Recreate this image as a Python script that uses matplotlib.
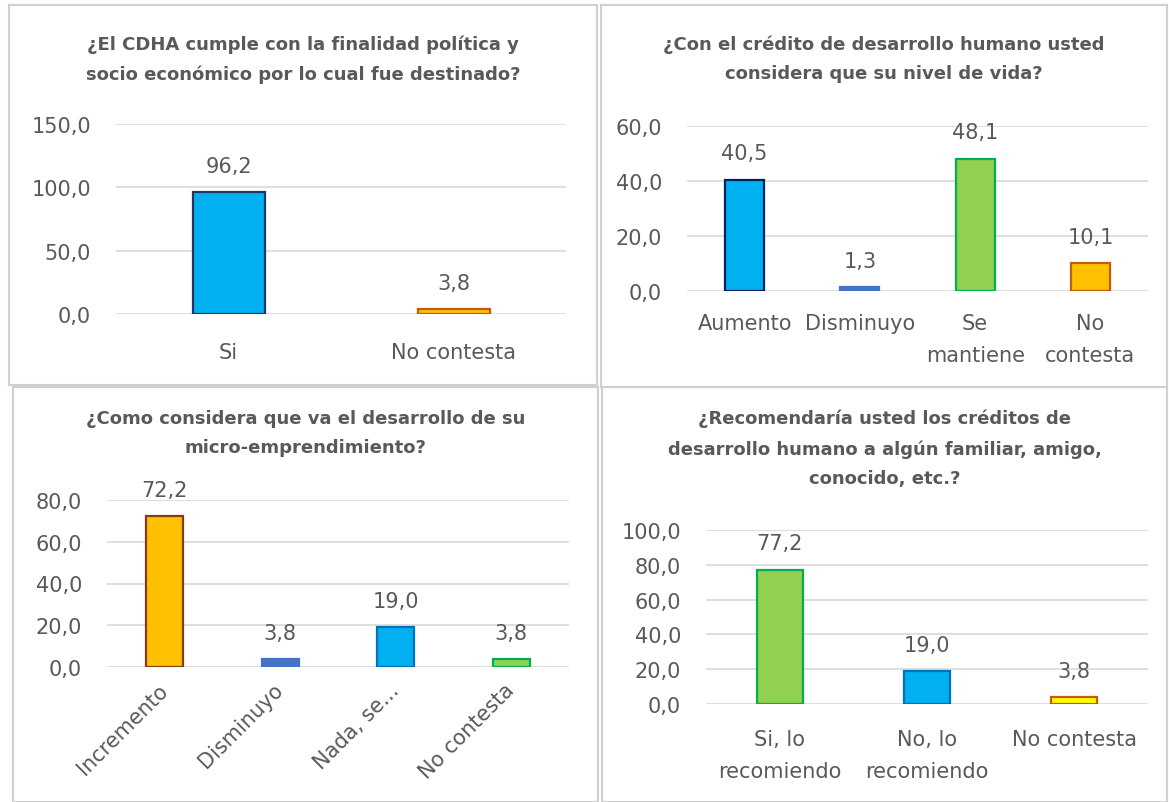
import numpy as np
import matplotlib
matplotlib.use("Agg")
import matplotlib.pyplot as plt
from matplotlib.patches import Rectangle

W, H = 1169, 803
TEXT = "#595959"
GRID = "#d9d9d9"

plt.rcParams["font.family"] = ["DejaVu Sans"]

# panel 1
p1_title = "¿El CDHA cumple con la finalidad política y\nsocio económico por lo cual fue destinado?"
p1_cats = ["Si", "No contesta"]
p1_vals = [96.2, 3.8]
p1_fill = ["#00b0f0", "#ffc000"]
p1_edge = ["#1f3864", "#c55a11"]

# panel 2
p2_title = "¿Con el crédito de desarrollo humano usted\nconsidera que su nivel de vida?"
p2_cats = ["Aumento", "Disminuyo", "Se\nmantiene", "No\ncontesta"]
p2_vals = [40.5, 1.3, 48.1, 10.1]
p2_fill = ["#00b0f0", "#4472c4", "#92d050", "#ffc000"]
p2_edge = ["#002060", "#4472c4", "#00b050", "#c55a11"]

# panel 3
p3_title = "¿Como considera que va el desarrollo de su\nmicro-emprendimiento?"
p3_cats = ["Incremento", "Disminuyo", "Nada, se...", "No contesta"]
p3_vals = [72.2, 3.8, 19.0, 3.8]
p3_fill = ["#ffc000", "#4472c4", "#00b0f0", "#92d050"]
p3_edge = ["#843c0c", "#4472c4", "#0070c0", "#00b050"]

# panel 4
p4_title = "¿Recomendaría usted los créditos de\ndesarrollo humano a algún familiar, amigo,\nconocido, etc.?"
p4_cats = ["Si, lo\nrecomiendo", "No, lo\nrecomiendo", "No contesta"]
p4_vals = [77.2, 19.0, 3.8]
p4_fill = ["#92d050", "#00b0f0", "#ffff00"]
p4_edge = ["#00b050", "#0070c0", "#c55a11"]


def px_axes(fig, x0, y0, x1, y1):
    return fig.add_axes([x0 / W, 1 - y1 / H, (x1 - x0) / W, (y1 - y0) / H])


def draw_panel(fig, box, plot, title, title_y, cats, vals, fill, edge,
               ymax, step, width, rotate=False, pad=18):
    bx0, by0, bx1, by1 = box
    fig.patches.append(Rectangle((bx0 / W, 1 - by1 / H), (bx1 - bx0) / W, (by1 - by0) / H,
                                 transform=fig.transFigure, fill=False,
                                 edgecolor="#d0d0d0", lw=1.5))
    ax = px_axes(fig, *plot)
    x = np.arange(len(cats))
    ax.bar(x, vals, width, color=fill, edgecolor=edge, linewidth=1.6, zorder=3)
    ax.set_xlim(-0.5, len(cats) - 0.5)
    ax.set_ylim(0, ymax)
    ticks = np.arange(0, ymax + 0.1, step)
    ax.set_yticks(ticks)
    ax.set_yticklabels([f"{t:.1f}".replace(".", ",") for t in ticks],
                       fontsize=15, color=TEXT)
    ax.yaxis.grid(True, color=GRID, lw=1.2, zorder=0)
    ax.set_axisbelow(True)
    for s in ax.spines.values():
        s.set_visible(False)
    ax.tick_params(length=0)
    ax.tick_params(axis="y", pad=18)
    ax.set_xticks(x)
    if rotate:
        ax.set_xticklabels(cats, rotation=45, ha="right", va="center",
                           rotation_mode="anchor", fontsize=15, color=TEXT)
    else:
        ax.set_xticklabels(cats, fontsize=15, color=TEXT, linespacing=1.75)
    ax.tick_params(axis="x", pad=pad)
    for xi, v in zip(x, vals):
        ax.annotate(f"{v:.1f}".replace(".", ","), (xi, v), xytext=(0, 19),
                    textcoords="offset points", ha="center", va="center",
                    fontsize=15, color=TEXT)
    fig.text((bx0 + bx1) / 2 / W, 1 - title_y / H, title,
             ha="center", va="top", fontsize=13, fontweight="bold",
             color=TEXT, linespacing=1.8)
    return ax


fig = plt.figure(figsize=(W / 100, H / 100), dpi=100)

draw_panel(fig, (9, 6, 597, 386), (116, 125, 566, 315), p1_title, 35,
           p1_cats, p1_vals, p1_fill, p1_edge, 150, 50, 0.32, pad=20)
draw_panel(fig, (601, 6, 1167, 388), (687, 127, 1148, 292), p2_title, 35,
           p2_cats, p2_vals, p2_fill, p2_edge, 60, 20, 0.34, pad=16)
draw_panel(fig, (13, 388, 598, 803), (107, 501, 569, 668), p3_title, 410,
           p3_cats, p3_vals, p3_fill, p3_edge, 80, 20, 0.32, rotate=True, pad=14)
draw_panel(fig, (602, 388, 1167, 803), (706, 531, 1148, 705), p4_title, 410,
           p4_cats, p4_vals, p4_fill, p4_edge, 100, 20, 0.31, pad=18)

fig.savefig("out.png", dpi=100)
